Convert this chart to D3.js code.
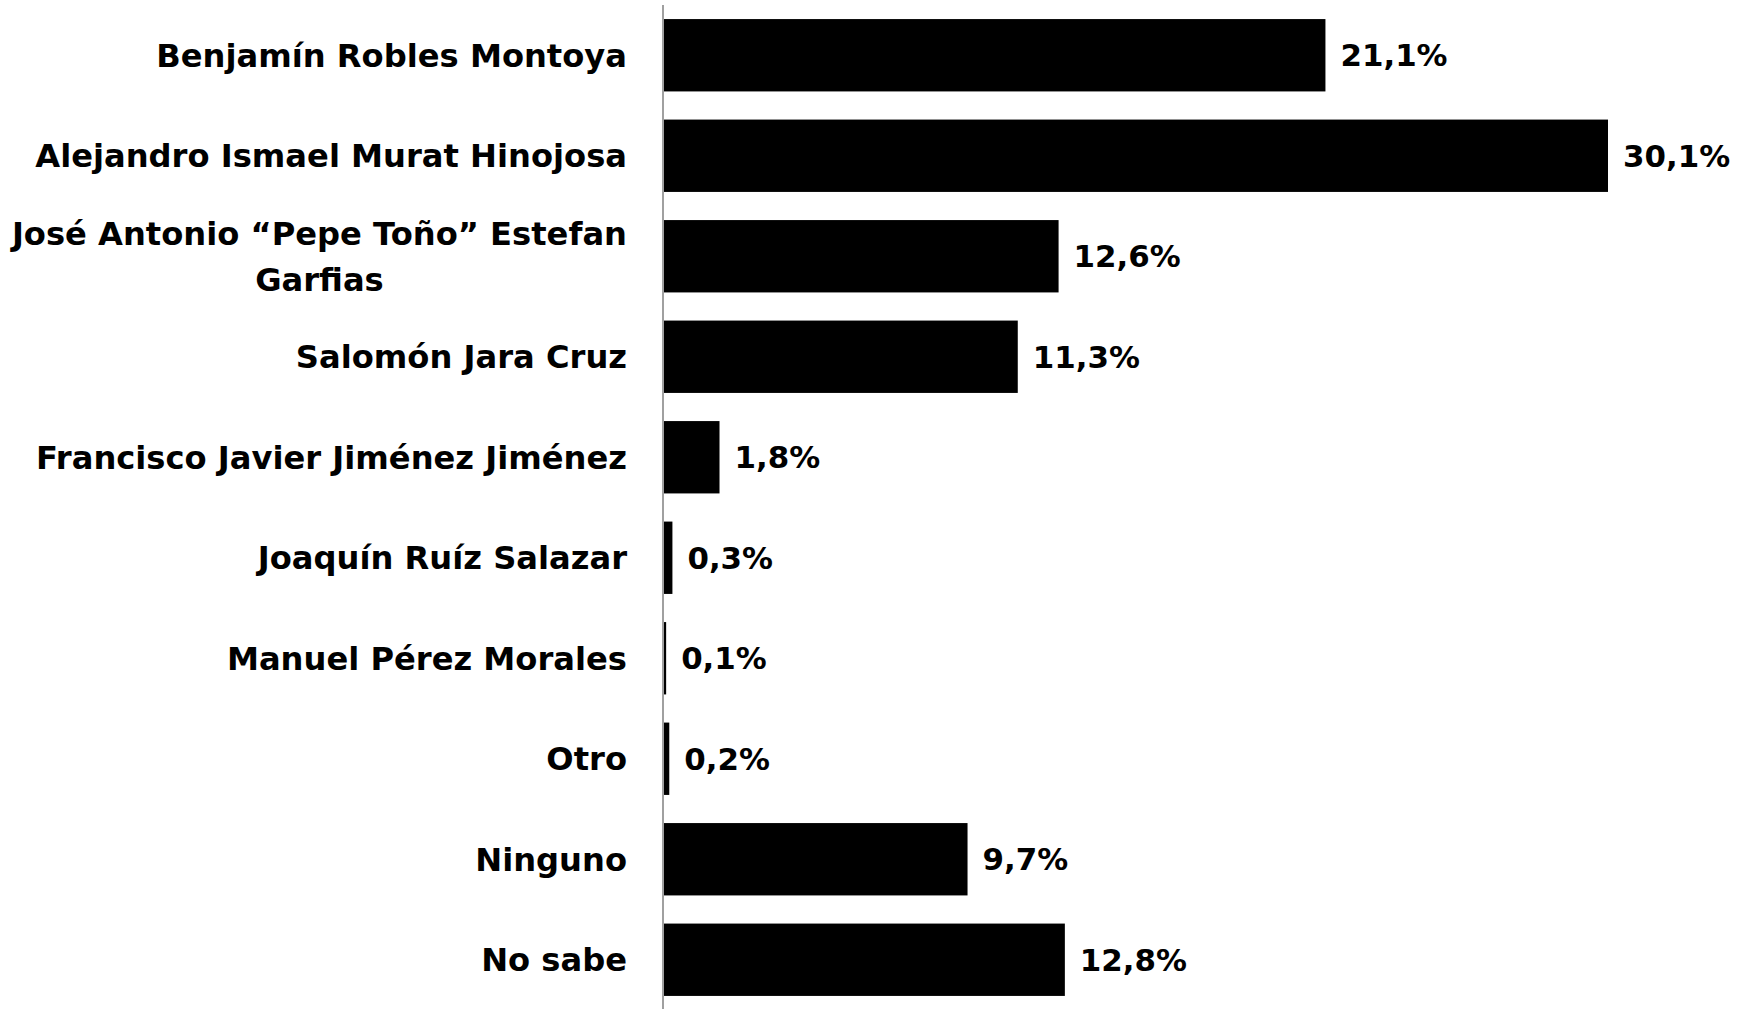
<!DOCTYPE html>
<html>
<head>
<meta charset="utf-8">
<script src="https://cdn.jsdelivr.net/npm/d3@7"></script>
<style>
html,body{margin:0;padding:0;background:#fff;}
svg{display:block;}
text{font-family:"DejaVu Sans",sans-serif;font-weight:bold;fill:#000;}
</style>
</head>
<body>
<svg id="chart" width="1749" height="1009"></svg>
<script>
const categories = [
  "Benjamín Robles Montoya",
  "Alejandro Ismael Murat Hinojosa",
  "José Antonio “Pepe Toño” Estefan Garfias",
  "Salomón Jara Cruz",
  "Francisco Javier Jiménez Jiménez",
  "Joaquín Ruíz Salazar",
  "Manuel Pérez Morales",
  "Otro",
  "Ninguno",
  "No sabe"
];
// category label as displayed (line breaks as in the reference)
const categoryLines = [
  ["Benjamín Robles Montoya"],
  ["Alejandro Ismael Murat Hinojosa"],
  ["José Antonio “Pepe Toño” Estefan", "Garfias"],
  ["Salomón Jara Cruz"],
  ["Francisco Javier Jiménez Jiménez"],
  ["Joaquín Ruíz Salazar"],
  ["Manuel Pérez Morales"],
  ["Otro"],
  ["Ninguno"],
  ["No sabe"]
];
const values = [21.1, 30.1, 12.6, 11.3, 1.8, 0.3, 0.1, 0.2, 9.7, 12.8];
const valueLabels = ["21,1%", "30,1%", "12,6%", "11,3%", "1,8%", "0,3%", "0,1%", "0,2%", "9,7%", "12,8%"];

const svg = d3.select("#chart");
const axisX = 663;
const x = d3.scaleLinear().domain([0, 30.1]).range([axisX, 1608]);
const y = d3.scaleBand().domain(categories).range([5, 1010]).paddingInner(0.28).paddingOuter(0.14);

const probe = svg.append("text").attr("font-size", 30).text("Alejandro Ismael Murat Hinojosa");
const w30 = probe.node().getComputedTextLength();
probe.remove();
const fs = 30 * 592 / w30;
const labelRight = 627;

svg.selectAll("rect.bar").data(values).join("rect")
  .attr("class", "bar")
  .attr("x", x(0))
  .attr("y", (d, i) => y(categories[i]))
  .attr("width", d => x(d) - x(0))
  .attr("height", y.bandwidth())
  .attr("fill", "#000");

svg.append("line")
  .attr("x1", axisX).attr("x2", axisX)
  .attr("y1", 5).attr("y2", 1009)
  .attr("stroke", "#a0a0a0").attr("stroke-width", 2);

categories.forEach((c, i) => {
  const lines = categoryLines[i];
  const cy = y(c) + y.bandwidth() / 2;
  const lh = fs * 1.42;
  const start = cy - (lines.length - 1) * lh / 2;
  let blockW = 0;
  const m = svg.append("text").attr("font-size", fs);
  lines.forEach(ln => { m.text(ln); blockW = Math.max(blockW, m.node().getComputedTextLength()); });
  m.remove();
  const center = labelRight - blockW / 2;
  const t = svg.append("text").attr("font-size", fs).attr("text-anchor", "middle");
  lines.forEach((ln, k) => {
    t.append("tspan").attr("x", center)
      .attr("y", start + k * lh).attr("dy", "0.36em").text(ln);
  });
});

svg.selectAll("text.val").data(values).join("text")
  .attr("class", "val")
  .attr("font-size", fs * 0.96)
  .attr("x", d => x(d) + 15)
  .attr("y", (d, i) => y(categories[i]) + y.bandwidth() / 2)
  .attr("dy", "0.36em")
  .text((d, i) => valueLabels[i]);
</script>
</body>
</html>
